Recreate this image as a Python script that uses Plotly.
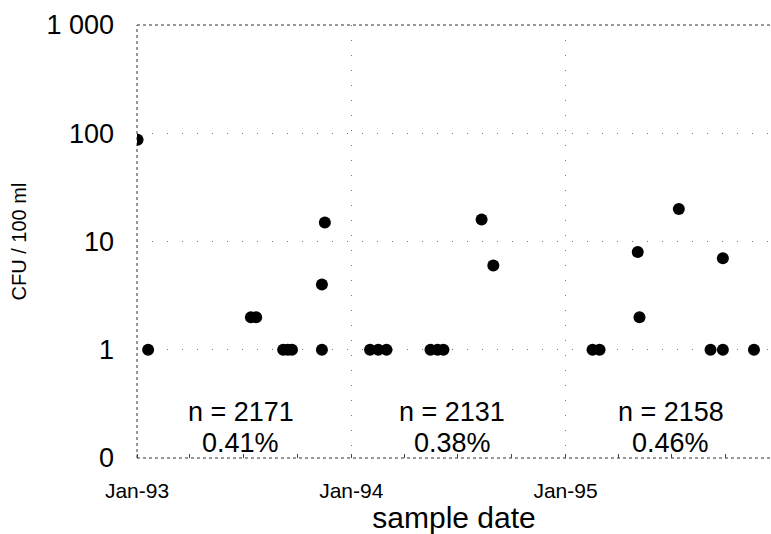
import plotly.graph_objects as go

# Data: sample dates and counts (CFU / 100 ml)
dates = [
    "1993-01-02", "1993-01-20",
    "1993-07-14", "1993-07-23",
    "1993-09-07", "1993-09-15", "1993-09-22",
    "1993-11-12", "1993-11-12", "1993-11-17",
    "1994-02-02", "1994-02-16", "1994-03-02",
    "1994-05-16", "1994-05-28", "1994-06-07",
    "1994-08-11", "1994-08-31",
    "1995-02-16", "1995-02-28",
    "1995-05-04", "1995-05-07",
    "1995-07-13",
    "1995-09-05", "1995-09-26", "1995-09-26",
    "1995-11-18",
]
cfu = [
    87, 1,
    2, 2,
    1, 1, 1,
    1, 4, 15,
    1, 1, 1,
    1, 1, 1,
    16, 6,
    1, 1,
    8, 2,
    20,
    1, 1, 7,
    1,
]

y_tickvals = [0.1, 1, 10, 100, 1000]
y_ticktext = ["0", "1", "10", "100", "1 000"]
x_tickvals = ["1993-01-01", "1994-01-01", "1995-01-01"]
x_ticktext = ["Jan-93", "Jan-94", "Jan-95"]

year_label_x = ["1993-06-27", "1994-06-22", "1995-06-29"]
year_n = ["n = 2171", "n = 2131", "n = 2158"]
year_pct = ["0.41%", "0.38%", "0.46%"]

FONT = "Liberation Sans, Arial, sans-serif"

fig = go.Figure()
fig.add_trace(go.Scatter(
    x=dates, y=cfu, mode="markers",
    marker=dict(color="black", size=12, line=dict(width=0)),
    showlegend=False,
))

for xv, n, p in zip(year_label_x, year_n, year_pct):
    for txt, yp in ((n, 0.106), (p, 0.035)):
        fig.add_annotation(
            x=xv, xref="x", y=yp, yref="paper",
            text=txt, showarrow=False,
            font=dict(family=FONT, size=27, color="black"),
            align="center", yanchor="middle", xanchor="center",
        )

fig.update_layout(
    width=771, height=534,
    margin=dict(l=137, r=0, t=25, b=76),
    paper_bgcolor="white", plot_bgcolor="white",
    font=dict(family=FONT, color="black"),
    xaxis=dict(
        type="date",
        range=["1993-01-01", "1995-12-17"],
        tickvals=x_tickvals, ticktext=x_ticktext,
        tickfont=dict(size=21, color="black"),
        ticks="", ticklabelstandoff=18,
        showgrid=True, gridcolor="#777", griddash="1px,14px", gridwidth=1,
        showline=False, zeroline=False,
        minor=dict(dtick="M3", tick0="1993-01-01", ticks="inside", ticklen=4,
                   tickcolor="#444", showgrid=False),
        title=dict(text="sample date", font=dict(size=30, color="black"), standoff=2),
    ),
    yaxis=dict(
        type="log", range=[-1, 3],
        tickvals=y_tickvals, ticktext=y_ticktext,
        tickfont=dict(size=27, color="black"),
        ticks="", ticklabelstandoff=22,
        showgrid=True, gridcolor="#777", griddash="1px,14px", gridwidth=1,
        showline=False, zeroline=False,
        title=dict(text="CFU / 100 ml", font=dict(size=20, color="black"), standoff=14),
    ),
)

# dotted frame lines (left axis, bottom axis, top)
for x0, y0, x1, y1 in [(0, 0, 0, 1), (0, 0, 1, 0), (0, 1, 1, 1)]:
    fig.add_shape(type="line", xref="paper", yref="paper",
                  x0=x0, y0=y0, x1=x1, y1=y1,
                  line=dict(color="#333", width=1, dash="dot"), layer="below")

fig.write_html("out.html")
